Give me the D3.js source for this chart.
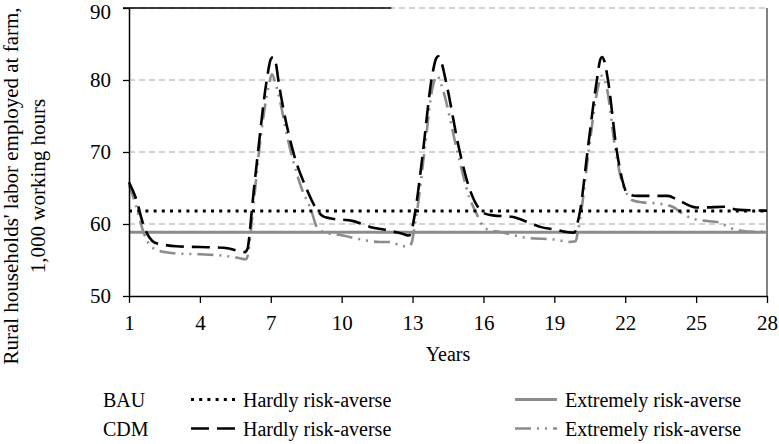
<!DOCTYPE html>
<html>
<head>
<meta charset="utf-8">
<script src="https://cdn.jsdelivr.net/npm/d3@7"></script>
<style>
  html, body { margin: 0; padding: 0; background: #fff; }
  svg { display: block; font-family: "Liberation Serif", "Times New Roman", serif; }
</style>
</head>
<body>
<svg id="chart" width="779" height="444"></svg>
<script>
// Farm labour of rural households, BAU vs CDM scenarios (1,000 working hours)

const yearTicks = [1, 4, 7, 10, 13, 16, 19, 22, 25, 28];
const valueTicks = [50, 60, 70, 80, 90];
const gridValues = [60, 70, 80, 90];

// BAU scenarios are flat over the whole horizon
const bauHardly = [[1, 61.8], [28, 61.8]];
const bauExtreme = [[1, 58.85], [28, 58.85]];

// CDM, hardly risk-averse: [year, value]
const cdmHardly = [
  [1, 65.8], [1.3, 63.5], [1.6, 60], [1.85, 58.2], [2.1, 57.4], [2.5, 57.1], [3, 56.9],
  [4, 56.8], [5, 56.7], [5.6, 56.3], [5.9, 56.1], [6.02, 56.6], [6.1, 58.5], [6.2, 62],
  [6.46, 70], [6.83, 80], [7.0, 82.9], [7.1, 83.2], [7.2, 82.6], [7.32, 80], [7.95, 70],
  [8.5, 65], [8.95, 62], [9.2, 61.1], [9.5, 60.8], [10.5, 60.4], [11.2, 59.6], [12, 59.1],
  [12.6, 58.6], [12.85, 58.4], [12.95, 58.9], [13.05, 60.5], [13.15, 62.5], [13.44, 70],
  [13.8, 80], [14.0, 83], [14.08, 83.3], [14.2, 82.7], [14.4, 80], [15.0, 70], [15.4, 65],
  [15.85, 62], [16.1, 61.4], [16.4, 61.2], [17.2, 61], [18, 60.1], [18.4, 59.6], [19.1, 59.2],
  [19.5, 58.9], [19.85, 58.8], [19.97, 60], [20.1, 62], [20.4, 70], [20.8, 80], [20.95, 82.9],
  [21.02, 83.2], [21.12, 82.6], [21.27, 80], [21.65, 70], [21.9, 65.8], [22.1, 64.2],
  [22.5, 63.9], [23.8, 63.9], [24.2, 63.4], [25.0, 62.3], [25.3, 62.3], [26.2, 62.4],
  [26.7, 62.0], [28, 61.85]
];

// CDM, extremely risk-averse: [year, value]
const cdmExtreme = [
  [1, 65.5], [1.3, 62.5], [1.6, 59], [1.85, 57.2], [2.1, 56.5], [2.5, 56.1], [3, 55.9],
  [4, 55.8], [5, 55.6], [5.6, 55.3], [5.95, 55.1], [6.05, 56], [6.12, 58], [6.25, 62],
  [6.5, 70], [6.9, 79], [7.05, 80.8], [7.2, 79.5], [7.85, 70], [8.3, 65], [8.7, 62],
  [8.95, 59.6], [9.3, 58.8], [9.9, 58.5], [10.9, 57.8], [11.6, 57.5], [12.1, 57.5],
  [12.55, 56.9], [12.85, 56.9], [12.98, 57.6], [13.1, 60], [13.2, 62], [13.5, 70],
  [13.85, 79], [14.05, 80.6], [14.2, 79.5], [14.9, 70], [15.4, 63.7], [15.7, 61.5],
  [15.9, 60.1], [16.2, 59.2], [16.7, 58.9], [17.8, 58.1], [19.1, 57.8], [19.6, 57.5],
  [19.9, 57.6], [20.0, 59], [20.15, 62], [20.45, 70], [20.85, 79], [21.02, 80.6],
  [21.18, 79.5], [21.6, 70], [21.85, 66], [22.1, 64], [22.3, 63.3], [22.75, 63],
  [23.2, 62.9], [24.0, 62.4], [24.4, 61.5], [24.8, 60.8], [25.25, 60.5], [26, 60.2],
  [26.4, 59.5], [26.85, 59.1], [27.4, 58.9], [28, 58.9]
];

const legendRows = ["BAU", "CDM"];
const legendLabels = ["Hardly risk-averse", "Extremely risk-averse"];

// ---- styles for each series ----
const STYLE = {
  bauHardly:  { stroke: "#000",    width: 3,   dash: "3,5.2" },
  bauExtreme: { stroke: "#8c8c8c", width: 3,   dash: null },
  cdmHardly:  { stroke: "#000",    width: 2.6, dash: "18,8" },
  cdmExtreme: { stroke: "#8c8c8c", width: 2.6, dash: "16,6,2,6,2,6" }
};

const svg = d3.select("#chart");

const x = d3.scaleLinear().domain([1, 28]).range([129, 767]);
const y = d3.scaleLinear().domain([50, 90]).range([296, 8]);

// gridlines
svg.append("g")
  .selectAll("line")
  .data(gridValues)
  .join("line")
  .attr("x1", x(1)).attr("x2", x(28))
  .attr("y1", d => y(d)).attr("y2", d => y(d))
  .attr("stroke", "#a6a6a6")
  .attr("stroke-width", 1)
  .attr("stroke-dasharray", "6,4");

// dark stretch along the top edge
svg.append("line")
  .attr("x1", x(1) - 6).attr("x2", x(12.1))
  .attr("y1", y(90)).attr("y2", y(90))
  .attr("stroke", "#000").attr("stroke-width", 1.3);

// right border
svg.append("line")
  .attr("x1", x(28)).attr("x2", x(28))
  .attr("y1", y(90)).attr("y2", y(50))
  .attr("stroke", "#404040").attr("stroke-width", 1.3);

const line = d3.line()
  .x(d => x(d[0]))
  .y(d => y(d[1]))
  .curve(d3.curveMonotoneX);

const series = [
  { key: "bauExtreme", data: bauExtreme },
  { key: "cdmExtreme", data: cdmExtreme },
  { key: "bauHardly", data: bauHardly },
  { key: "cdmHardly", data: cdmHardly }
];

svg.append("g")
  .selectAll("path")
  .data(series)
  .join("path")
  .attr("d", d => line(d.data))
  .attr("fill", "none")
  .attr("stroke", d => STYLE[d.key].stroke)
  .attr("stroke-width", d => STYLE[d.key].width)
  .attr("stroke-dasharray", d => STYLE[d.key].dash);

// axes
const yAxis = svg.append("g")
  .attr("transform", `translate(${x(1)},0)`)
  .call(d3.axisLeft(y).tickValues(valueTicks).tickSize(6).tickPadding(12).tickSizeOuter(0));

const xAxis = svg.append("g")
  .attr("transform", `translate(0,${y(50)})`)
  .call(d3.axisBottom(x).tickValues(yearTicks).tickSize(7).tickPadding(12).tickSizeOuter(0));

[yAxis, xAxis].forEach(ax => {
  ax.select(".domain").attr("stroke", "#000").attr("stroke-width", 1.5);
  ax.selectAll(".tick line").attr("stroke", "#000").attr("stroke-width", 1.3);
  ax.selectAll("text")
    .attr("fill", "#000")
    .style("font-family", "'Liberation Serif', serif")
    .style("font-size", "21px");
});
// keep the top label inside the frame
yAxis.selectAll(".tick text").filter(d => d === 90).attr("dy", "0.48em");

// axis titles
svg.append("text")
  .attr("x", (x(1) + x(28)) / 2)
  .attr("y", 361)
  .attr("text-anchor", "middle")
  .style("font-size", "20px")
  .text("Years");

const yTitle = svg.append("text")
  .attr("transform", "translate(0,186) rotate(-90)")
  .attr("text-anchor", "middle")
  .style("font-size", "21px");
yTitle.append("tspan").attr("x", 0).attr("y", 18).text("Rural households' labor employed at farm,");
yTitle.append("tspan").attr("x", 0).attr("y", 45).text("1,000 working hours");

// legend
const rowY = [407, 436];
const colLine = [[191, 239], [515, 557]];
const colText = [243, 565];
const legendKeys = [["bauHardly", "bauExtreme"], ["cdmHardly", "cdmExtreme"]];

legendRows.forEach((name, r) => {
  svg.append("text")
    .attr("x", 103).attr("y", rowY[r])
    .style("font-size", "20px")
    .text(name);
  legendLabels.forEach((label, c) => {
    const st = STYLE[legendKeys[r][c]];
    svg.append("line")
      .attr("x1", colLine[c][0]).attr("x2", colLine[c][1])
      .attr("y1", rowY[r] - 7.5).attr("y2", rowY[r] - 7.5)
      .attr("stroke", st.stroke)
      .attr("stroke-width", st.width)
      .attr("stroke-dasharray", st.dash);
    svg.append("text")
      .attr("x", colText[c]).attr("y", rowY[r])
      .style("font-size", "20px")
      .text(label);
  });
});
</script>
</body>
</html>
